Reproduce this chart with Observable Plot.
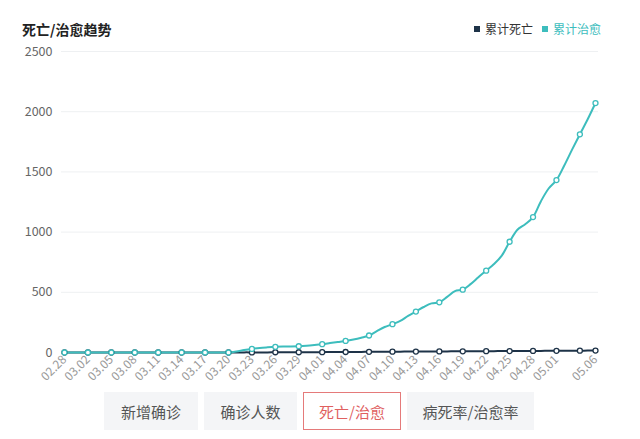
<!DOCTYPE html>
<html><head><meta charset="utf-8">
<script src="https://cdn.jsdelivr.net/npm/d3@7"></script>
<script src="https://cdn.jsdelivr.net/npm/@observablehq/plot@0.6"></script>
<style>
body{margin:0;width:640px;height:439px;position:relative;background:#fff;font-family:"Noto Sans CJK SC","Noto Sans",sans-serif;overflow:hidden}
#title{position:absolute;left:22px;top:19px;font-size:14px;font-weight:bold;color:#222;line-height:20px}
#legend{position:absolute;left:474px;top:20px;font-size:12px;line-height:18px;display:flex;align-items:center}
#legend .sw{display:inline-block;width:6px;height:6px;margin-right:5px}
#legend .it{display:flex;align-items:center;margin-right:9px}
#chart{position:absolute;left:0;top:40px}
#buttons{position:absolute;top:392px;left:104px;display:flex}
.btn{height:38px;box-sizing:border-box;background:#f4f5f7;color:#555;font-size:15px;display:flex;align-items:center;justify-content:center;margin-right:6px}
.btn.sel{background:#fff;border:1px solid #e57a7a;color:#e0605f}
</style></head>
<body>
<div id="title">死亡/治愈趋势</div>
<div id="legend"></div>
<div id="chart"></div>
<div id="buttons"></div>
<script>
const dates = ["02.28","02.29","03.01","03.02","03.03","03.04","03.05","03.06","03.07","03.08","03.09","03.10","03.11","03.12","03.13","03.14","03.15","03.16","03.17","03.18","03.19","03.20","03.21","03.22","03.23","03.24","03.25","03.26","03.27","03.28","03.29","03.30","03.31","04.01","04.02","04.03","04.04","04.05","04.06","04.07","04.08","04.09","04.10","04.11","04.12","04.13","04.14","04.15","04.16","04.17","04.18","04.19","04.20","04.21","04.22","04.23","04.24","04.25","04.26","04.27","04.28","04.29","04.30","05.01","05.02","05.03","05.04","05.05","05.06"];
const deaths = [0,0,0,0,0,0,0,0,0,0,0,0,0,0,0,0,0,0,0,0,0,0,0,1,1,1,1,2,2,2,2,3,3,3,4,4,4,5,5,6,6,7,7,7,8,8,8,9,9,9,10,10,10,11,11,11,12,12,12,13,13,13,14,14,14,15,15,16,16];
const cured = [0,0,0,0,0,0,0,0,0,0,0,0,0,0,0,0,0,0,0,0,0,0,8,20,30,38,43,47,49,50,52,56,62,69,78,87,96,108,123,141,178,212,235,262,304,340,378,408,417,462,510,522,568,625,680,735,805,920,1020,1065,1125,1255,1362,1432,1553,1685,1812,1937,2072];
const tickLabels = ["02.28","03.02","03.05","03.08","03.11","03.14","03.17","03.20","03.23","03.26","03.29","04.01","04.04","04.07","04.10","04.13","04.16","04.19","04.22","04.25","04.28","05.01","05.06"];
const yTicks = [0,500,1000,1500,2000,2500];
const seriesNames = ["累计死亡","累计治愈"];
const seriesColors = ["#1e3348","#3dbdbd"];
const legendTextColors = ["#333","#3dbdbd"];
const buttonLabels = ["新增确诊","确诊人数","死亡/治愈","病死率/治愈率"];
const buttonWidths = [94,93,98,127];
const selectedButton = 2;

const rows = dates.map((d,i)=>({date:d, deaths:deaths[i], cured:cured[i]}));
const dotRows = rows.filter((r,i)=> i%3===0 || i===rows.length-1);

const chart = Plot.plot({
  width:640, height:350,
  marginTop:11, marginBottom:38, marginLeft:64, marginRight:45,
  style:{fontFamily:'"Noto Sans CJK SC","Noto Sans",sans-serif', color:"#666", background:"transparent"},
  x:{type:"point", domain:dates, padding:0, label:null},
  y:{domain:[0,2500], label:null},
  marks:[
    Plot.ruleY(yTicks.slice(1),{stroke:"#eef0f2", strokeWidth:1, insetLeft:-3, insetRight:-3}),
    Plot.axisY({ticks:yTicks, tickFormat:d=>String(d), tickSize:0, tickPadding:12, fontSize:12.5, fill:"#666", label:null}),
    Plot.axisX({ticks:tickLabels, tickSize:0, tickPadding:5, tickRotate:-45, fontSize:12, fill:"#999", label:null}),
    Plot.line(rows,{x:"date", y:"deaths", stroke:seriesColors[0], strokeWidth:2, curve:"catmull-rom"}),
    Plot.line(rows,{x:"date", y:"cured", stroke:seriesColors[1], strokeWidth:2, curve:"catmull-rom"}),
    Plot.dot(dotRows,{x:"date", y:"deaths", r:2.5, fill:"white", stroke:seriesColors[0], strokeWidth:1.3}),
    Plot.dot(dotRows,{x:"date", y:"cured", r:2.5, fill:"white", stroke:seriesColors[1], strokeWidth:1.3})
  ]
});
document.getElementById("chart").appendChild(chart);

const lg = document.getElementById("legend");
seriesNames.forEach((n,i)=>{
  const it = document.createElement("span"); it.className="it";
  const sw = document.createElement("span"); sw.className="sw"; sw.style.background=seriesColors[i];
  const tx = document.createElement("span"); tx.textContent=n; tx.style.color=legendTextColors[i];
  it.appendChild(sw); it.appendChild(tx); lg.appendChild(it);
});
const bt = document.getElementById("buttons");
buttonLabels.forEach((b,i)=>{
  const d = document.createElement("div"); d.className="btn"+(i===selectedButton?" sel":"");
  d.style.width=buttonWidths[i]+"px"; d.textContent=b; bt.appendChild(d);
});
</script>
</body></html>
